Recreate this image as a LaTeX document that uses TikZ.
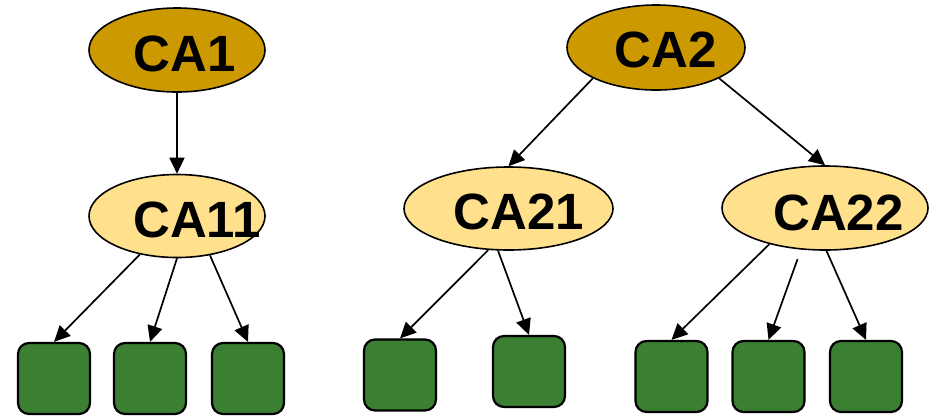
\documentclass[tikz,border=0pt]{standalone}
\usepackage{fontspec}
\setmainfont{Liberation Sans}
\usetikzlibrary{shapes.geometric,arrows.meta}
\definecolor{darkgold}{RGB}{204,153,0}
\definecolor{lightgold}{RGB}{255,224,140}
\definecolor{leafgreen}{RGB}{59,127,51}
\tikzset{
  topell/.style={ellipse,draw=black,line width=1.6pt,fill=darkgold,inner sep=0pt},
  midell/.style={ellipse,draw=black,line width=1.6pt,fill=lightgold,inner sep=0pt},
  leafbox/.style={draw=black,line width=2.2pt,fill=leafgreen,rounded corners=11pt,minimum width=72pt,minimum height=71pt,inner sep=0pt},
  lbl/.style={inner sep=0pt,font=\bfseries\fontsize{51}{51}\selectfont},
  conn/.style={line width=1.7pt,-{Triangle[length=16pt,width=15pt]}}
}
\begin{document}
\begin{tikzpicture}[x=1pt,y=-1pt]
\useasboundingbox (0,0) rectangle (937,416);
% ellipses
\node[topell,minimum width=176pt,minimum height=84pt] (ca1) at (177,50) {};
\node[midell,minimum width=176pt,minimum height=83pt] (ca11) at (177,216) {};
\node[topell,minimum width=178pt,minimum height=85pt] (ca2) at (656,47.5) {};
\node[midell,minimum width=209pt,minimum height=83pt] (ca21) at (508.5,208.5) {};
\node[midell,minimum width=206pt,minimum height=84pt] (ca22) at (825,208) {};
% labels
\node[lbl] (t1) at (185,54) {CA1};
\node[lbl] (t11) at (197,220) {CA11};
\node[lbl] (t2) at (665.5,50) {CA2};
\node[lbl] (t21) at (519,212) {CA21};
\node[lbl] (t22) at (838.5,213) {CA22};
% leaf boxes
\node[leafbox] (b11) at (54,378.5) {};
\node[leafbox] (b12) at (150,378.5) {};
\node[leafbox] (b13) at (248,378.5) {};
\node[leafbox] (b21) at (400,375) {};
\node[leafbox] (b22) at (529,371.5) {};
\node[leafbox] (b31) at (671.5,376.5) {};
\node[leafbox] (b32) at (768.5,376.5) {};
\node[leafbox] (b33) at (866,376.5) {};
% connectors
\draw[conn] (ca1.south) -- (ca11.north);
\draw[conn] (ca2.206) -- (ca21.north);
\draw[conn] (ca2.334) -- (ca22.north);
\draw[conn] (ca11.226) -- (b11.north);
\draw[conn] (ca11.270) -- (b12.north);
\draw[conn] (ca11.310) -- (b13.north);
\draw[conn] (ca21.244) -- (b21.north);
\draw[conn] (ca21.256) -- (b22.north);
\draw[conn] (ca22.213) -- (b31.north);
\draw[conn,shorten <=10pt] (ca22.240) -- (b32.north);
\draw[conn] (ca22.272) -- (b33.north);
\end{tikzpicture}
\end{document}
